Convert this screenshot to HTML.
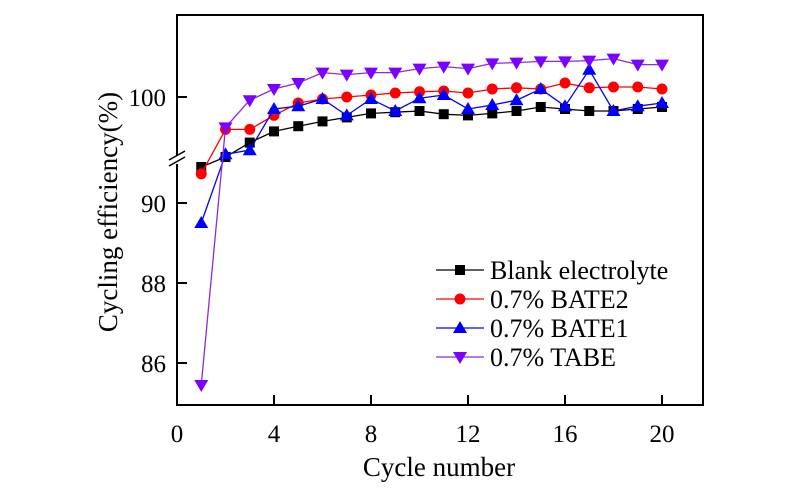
<!DOCTYPE html>
<html><head><meta charset="utf-8"><style>
html,body{margin:0;padding:0;background:#fff;}
svg{display:block;font-family:"Liberation Serif",serif;}
</style></head><body>
<svg id="chart" width="800" height="493" viewBox="0 0 800 493" xmlns="http://www.w3.org/2000/svg">
<rect x="177" y="15" width="526" height="390" fill="none" stroke="#000" stroke-width="2"/>
<g id="axes"></g>
<g id="series"></g>
<text x="439" y="476" font-size="27" text-anchor="middle">Cycle number</text>
<text transform="translate(117,212) rotate(-90)" font-size="27" text-anchor="middle">Cycling efficiency(%)</text>
<g id="legend"></g>
</svg>
<script>
const cycles=[1,2,3,4,5,6,7,8,9,10,11,12,13,14,15,16,17,18,19,20];
const blankValues=[90.9,91.15,98.86,99.14,99.27,99.39,99.49,99.59,99.62,99.65,99.57,99.54,99.59,99.65,99.75,99.70,99.65,99.65,99.70,99.75];
const bate2Values=[90.73,99.19,99.19,99.54,99.85,99.95,100.0,100.05,100.1,100.13,100.15,100.1,100.2,100.23,100.2,100.35,100.23,100.25,100.25,100.2];
const bate1Values=[89.5,91.22,91.32,99.7,99.77,99.95,99.54,99.95,99.65,99.97,100.05,99.7,99.8,99.92,100.2,99.77,100.68,99.65,99.77,99.85];
const tabeValues=[85.45,99.24,99.92,100.2,100.35,100.61,100.56,100.61,100.61,100.71,100.76,100.71,100.84,100.86,100.89,100.89,100.91,100.96,100.81,100.81];
const xTicks=[0,4,8,12,16,20];
const yTicksLower=[86,88,90];
const yTicksUpper=[100];
const seriesNames=["Blank electrolyte","0.7% BATE2","0.7% BATE1","0.7% TABE"];

const NS="http://www.w3.org/2000/svg";
function xs(v){return 177+v*24.25;}
function ys(v){return v>=95 ? 97-(v-100)*40 : 203-(v-90)*40;}
function mk(tag,attrs,parent){const e=document.createElementNS(NS,tag);for(const k in attrs)e.setAttribute(k,attrs[k]);parent.appendChild(e);return e;}

const axes=document.getElementById('axes');
xTicks.forEach(t=>{
  const l=mk('line',{x1:xs(t),x2:xs(t),y1:405,y2:395,stroke:'#000','stroke-width':2},axes);
  
  
  const tx=mk('text',{x:xs(t),y:442,'font-size':25,'text-anchor':'middle'},axes);
  
  
  tx.textContent=t;
});
yTicksLower.concat(yTicksUpper).forEach(t=>{
  const l=mk('line',{x1:177,x2:187,y1:ys(t),y2:ys(t),stroke:'#000','stroke-width':2},axes);
  
  
  const tx=mk('text',{x:166,y:ys(t)+9,'font-size':25,'text-anchor':'end'},axes);
  
  
  tx.textContent=t;
});
const br=mk('rect',{x:170,y:156,width:14,height:8,fill:'#fff'},axes);


[0,6].forEach(o=>{
  const l=mk('line',{x1:169,y1:166-o,x2:185,y2:157-o,stroke:'#000','stroke-width':1.5},axes);
  
  
});

const colors=['#000000','#ff0000','#0000ff','#8a2be2'];
const markerColors=['#000000','#ff0000','#0000ff','#7a00ff'];
const data=[blankValues,bate2Values,bate1Values,tabeValues];
const shapes=['square','circle','up','down'];
const sg=document.getElementById('series');
function marker(shape,cx,cy,color,parent){
  let e;
  if(shape==='square') e=mk('rect',{x:cx-5,y:cy-5,width:10,height:10,fill:color},parent);
  else if(shape==='circle') e=mk('circle',{cx:cx,cy:cy,r:5.5,fill:color},parent);
  else if(shape==='up') e=mk('polygon',{points:`${cx},${cy-7} ${cx-7},${cy+5} ${cx+7},${cy+5}`,fill:color},parent);
  else e=mk('polygon',{points:`${cx},${cy+7} ${cx-7},${cy-5} ${cx+7},${cy-5}`,fill:color},parent);
  return e;
}
data.forEach((vals,i)=>{
  const g=mk('g',{},sg);
  
  
  const pl=mk('polyline',{points:vals.map((v,j)=>xs(cycles[j])+','+ys(v)).join(' '),fill:'none',stroke:colors[i],'stroke-width':1.3},g);
  
  
  vals.forEach((v,j)=>{
    const m=marker(shapes[i],xs(cycles[j]),ys(v),markerColors[i],g);
    
    
  });
});

const lg=document.getElementById('legend');
seriesNames.forEach((n,i)=>{
  const y=270+i*29;
  const g=mk('g',{},lg);
  
  
  mk('line',{x1:436,x2:484,y1:y,y2:y,stroke:colors[i],'stroke-width':1.3},g);
  marker(shapes[i],460,y,markerColors[i],g);
  const t=mk('text',{x:490,y:y+9,'font-size':26},g);
  t.textContent=n;
});
</script>
</body></html>
